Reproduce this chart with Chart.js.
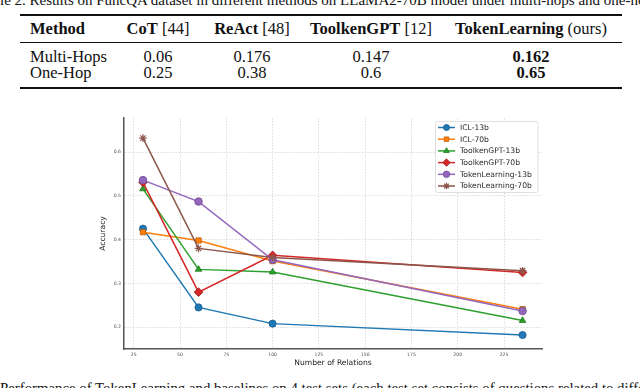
<!DOCTYPE html>
<html><head><meta charset="utf-8">
<script src="https://cdn.jsdelivr.net/npm/chart.js@4.4.0/dist/chart.umd.min.js"></script>
<style>
html,body{margin:0;padding:0;background:#fff;width:640px;height:388px;overflow:hidden;position:relative;font-family:"Liberation Serif","Times New Roman",serif;color:#111}
.t{position:absolute;white-space:nowrap;font-size:16.5px;line-height:17px}
.c{transform:translateX(-50%)}
.rule{position:absolute;background:#111;left:20px;width:602px;z-index:5}
#wrap{position:absolute;left:0;top:0;width:640px;height:388px}
#cap1{position:absolute;top:-8px;font-size:15px;line-height:17px;white-space:nowrap}
#cap2{position:absolute;top:380px;left:0;font-size:14.8px;line-height:17px;white-space:nowrap}
</style></head><body>
<div id="cap1"></div>
<div class="rule" style="top:14px;height:1.5px"></div>
<div class="rule" style="top:42px;height:1px"></div>
<div class="rule" style="top:87px;height:1.5px"></div>
<div id="table"></div>
<div id="cap2"></div>
<div id="wrap"><canvas id="c" width="640" height="388"></canvas></div>
<script>
// ---- table data ----
const tableCaption = "Table 2. Results on FuncQA dataset in different methods on LLaMA2-70B model under multi-hops and one-hop";
const figureCaption = "Performance of TokenLearning and baselines on 4 test sets (each test set consists of questions related to different";
const tableHeaderBold = ["Method", "CoT", "ReAct", "ToolkenGPT", "TokenLearning"];
const tableHeaderRest = ["", " [44]", " [48]", " [12]", " (ours)"];
const tableRowNames = ["Multi-Hops", "One-Hop"];
const multiHops = ["0.06", "0.176", "0.147", "0.162"];
const oneHop = ["0.25", "0.38", "0.6", "0.65"];

// ---- chart data ----
const relations = [30, 60, 100, 235];
const seriesNames = ["ICL-13b", "ICL-70b", "ToolkenGPT-13b", "ToolkenGPT-70b", "TokenLearning-13b", "TokenLearning-70b"];
const icl13b = [0.425, 0.245, 0.208, 0.182];
const icl70b = [0.417, 0.398, 0.351, 0.241];
const toolken13b = [0.516, 0.332, 0.326, 0.215];
const toolken70b = [0.531, 0.280, 0.364, 0.325];
const token13b = [0.536, 0.487, 0.354, 0.237];
const token70b = [0.632, 0.380, 0.359, 0.329];
const xTicks = [25, 50, 75, 100, 125, 150, 175, 200, 225];
const yTicks = [0.2, 0.3, 0.4, 0.5, 0.6];

// ---- build table ----
(function(){
  const meas = document.createElement('canvas').getContext('2d');
  meas.font = '15px "Liberation Serif"';
  const cap1 = document.getElementById('cap1');
  cap1.textContent = tableCaption;
  cap1.style.left = (-meas.measureText('Tab').width) + 'px';
  document.getElementById('cap2').textContent = figureCaption;
  const colX = [30, 158, 252, 371, 531];
  const t = document.getElementById('table');
  let html = '';
  const headTop = 20, rowTops = [48, 64];
  tableHeaderBold.forEach((b, i) => {
    html += `<div class="t${i ? ' c' : ''}" style="left:${colX[i]}px;top:${headTop}px"><b>${b}</b>${tableHeaderRest[i]}</div>`;
  });
  [multiHops, oneHop].forEach((row, r) => {
    html += `<div class="t" style="left:${colX[0]}px;top:${rowTops[r]}px">${tableRowNames[r]}</div>`;
    row.forEach((v, j) => {
      const bold = j === row.length - 1;
      html += `<div class="t c" style="left:${colX[j+1]}px;top:${rowTops[r]}px">${bold ? '<b>' + v + '</b>' : v}</div>`;
    });
  });
  t.innerHTML = html;
})();

// ---- chart ----
const seriesValues = [icl13b, icl70b, toolken13b, toolken70b, token13b, token70b];
const colors = ['#1f77b4', '#ff7f0e', '#2ca02c', '#d62728', '#9467bd', '#8c564b'];
const edges = ['#1a5f90', '#c0600a', '#1f7a1f', '#a01e1e', '#6f4b92', '#5e3a32'];
const styles = ['circle', 'rect', 'triangle', 'rectRot', 'circle', 'star'];
const radii = [3.6, 3.8, 3.8, 4.4, 3.8, 3.8];

const datasets = seriesNames.map((name, i) => ({
  label: name,
  data: relations.map((x, k) => ({x: x, y: seriesValues[i][k]})),
  borderColor: colors[i],
  backgroundColor: colors[i],
  borderWidth: 1.5,
  pointStyle: styles[i],
  pointRadius: radii[i],
  pointBackgroundColor: colors[i],
  pointBorderColor: i === 5 ? colors[i] : edges[i],
  pointBorderWidth: i === 5 ? 1.2 : 0.8,
  tension: 0,
  order: 6 - i
}));

function drawMarker(ctx, style, r, x, y) {
  if (Chart.helpers && Chart.helpers.drawPoint) {
    Chart.helpers.drawPoint(ctx, {pointStyle: style, radius: r, rotation: 0, borderWidth: ctx.lineWidth}, x, y);
    return;
  }
  ctx.beginPath(); ctx.arc(x, y, r, 0, Math.PI * 2); ctx.fill(); ctx.stroke();
}

const legendPlugin = {
  id: 'boxLegend',
  afterDraw(chart) {
    const ctx = chart.ctx;
    const x0 = 435.5, y0 = 121.5, w = 102.5, h = 71;
    ctx.save();
    ctx.beginPath();
    if (ctx.roundRect) ctx.roundRect(x0, y0, w, h, 2); else ctx.rect(x0, y0, w, h);
    ctx.fillStyle = 'rgba(255,255,255,0.85)';
    ctx.fill();
    ctx.strokeStyle = '#d8d8d8';
    ctx.lineWidth = 0.8;
    ctx.stroke();
    chart.data.datasets.forEach((ds, i) => {
      const cy = 127.5 + i * 11.7;
      ctx.strokeStyle = ds.borderColor;
      ctx.lineWidth = 1.5;
      ctx.beginPath(); ctx.moveTo(438, cy); ctx.lineTo(455, cy); ctx.stroke();
      ctx.fillStyle = ds.pointBackgroundColor;
      ctx.strokeStyle = ds.pointBorderColor;
      ctx.lineWidth = ds.pointBorderWidth;
      drawMarker(ctx, ds.pointStyle, ds.pointRadius * 0.85, 446.5, cy);
      ctx.fillStyle = '#2a2a2a';
      ctx.font = '7.6px "DejaVu Sans"';
      ctx.textBaseline = 'middle';
      ctx.textAlign = 'left';
      ctx.fillText(ds.label, 460, cy + 0.5);
    });
    ctx.restore();
  }
};

const tickFont = {family: 'DejaVu Sans', size: 4.6};
new Chart(document.getElementById('c'), {
  type: 'line',
  data: {datasets},
  options: {
    responsive: false,
    animation: false,
    events: [],
    layout: {padding: {left: 84, top: 118, right: 98, bottom: 14}},
    plugins: {legend: {display: false}, tooltip: {enabled: false}},
    scales: {
      x: {
        type: 'linear', min: 19.75, max: 245.5,
        afterBuildTicks: a => { a.ticks = xTicks.map(v => ({value: v})); },
        afterFit: s => { s.height = 25; },
        grid: {color: '#d2d2d2', lineWidth: 0.8, drawTicks: false},
        border: {color: '#555', width: 1.5, dash: [1.5, 1.5]},
        ticks: {autoSkip: false, maxRotation: 0, padding: 3, font: tickFont, color: '#555', callback: v => String(v)},
        title: {display: true, text: 'Number of Relations', color: '#222', font: {family: 'DejaVu Sans', size: 7.6}, padding: {top: 0, bottom: 6.4}}
      },
      y: {
        type: 'linear', min: 0.15, max: 0.678,
        afterBuildTicks: a => { a.ticks = yTicks.map(v => ({value: v})); },
        afterFit: s => { s.width = 40; },
        grid: {color: '#d2d2d2', lineWidth: 0.8, drawTicks: false},
        border: {color: '#555', width: 1.5, dash: [1.5, 1.5]},
        ticks: {autoSkip: false, padding: 3, font: tickFont, color: '#555', callback: v => v.toFixed(1)},
        title: {display: true, text: 'Accuracy', color: '#222', font: {family: 'DejaVu Sans', size: 7.6}, padding: {top: 14, bottom: 0}}
      }
    }
  },
  plugins: [legendPlugin]
});
</script>
</body></html>
